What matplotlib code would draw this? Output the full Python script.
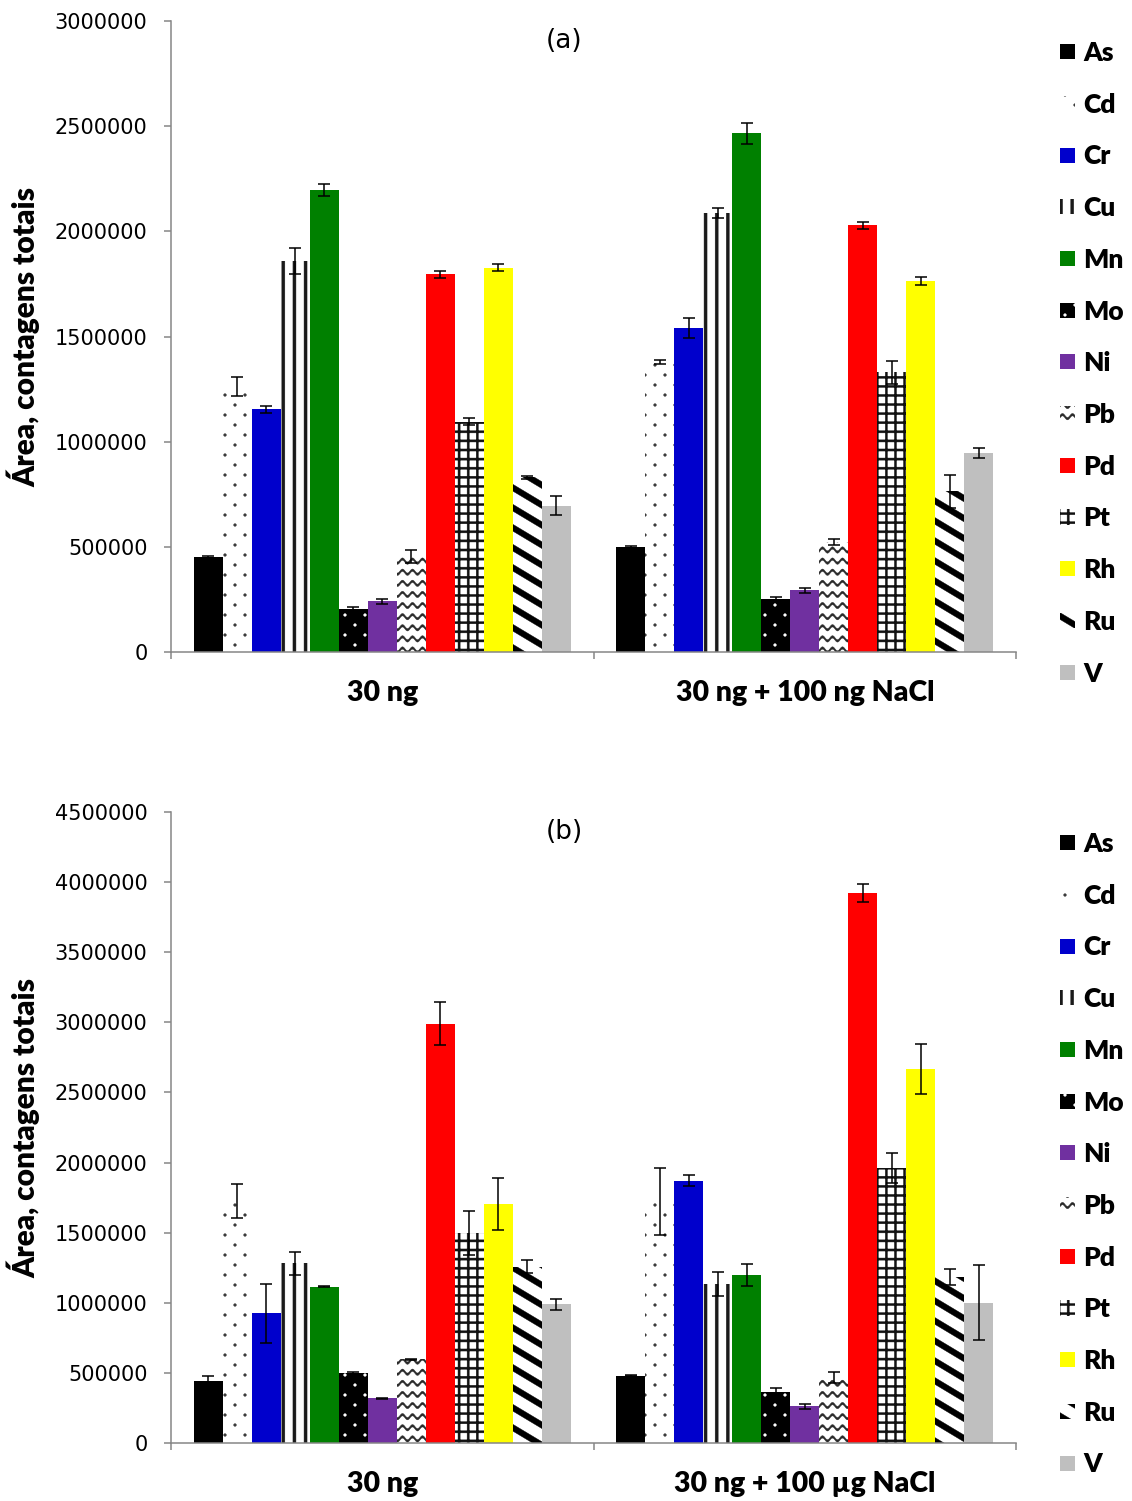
import warnings
import numpy as np
import matplotlib
matplotlib.use('Agg')
import matplotlib.pyplot as plt
import matplotlib.hatch as mhatch
from matplotlib.path import Path

warnings.filterwarnings('ignore', message='hatch must consist')

elements = ['As', 'Cd', 'Cr', 'Cu', 'Mn', 'Mo', 'Ni', 'Pb', 'Pd', 'Pt', 'Rh', 'Ru', 'V']
groups_a = ['30 ng', '30 ng + 100 ng NaCl']
groups_b = ['30 ng', '30 ng + 100 µg NaCl']

# (a) 30 ng and 30 ng + 100 ng NaCl
area_a_30 = [450000, 1262000, 1154000, 1859000, 2197000, 203000, 241000,
             453000, 1796000, 1095000, 1827000, 830000, 696000]
err_a_30 = [8000, 46000, 17000, 60000, 28000, 13000, 12000,
            32000, 17000, 17000, 17000, 6000, 47000]
area_a_nacl = [499000, 1379000, 1540000, 2087000, 2467000, 252000, 293000,
               524000, 2028000, 1329000, 1763000, 764000, 946000]
err_a_nacl = [5000, 10000, 47000, 25000, 50000, 11000, 13000,
              15000, 16000, 56000, 19000, 79000, 23000]

# (b) 30 ng and 30 ng + 100 ug NaCl
area_b_30 = [444000, 1726000, 925000, 1281000, 1115000, 497000, 319000,
             597000, 2991000, 1495000, 1704000, 1257000, 989000]
err_b_30 = [33000, 119000, 209000, 83000, 5000, 8000, 4000,
            4000, 153000, 156000, 185000, 48000, 38000]
area_b_nacl = [480000, 1720000, 1871000, 1137000, 1196000, 364000, 263000,
               467000, 3922000, 1961000, 2667000, 1183000, 999000]
err_b_nacl = [5000, 239000, 41000, 86000, 77000, 27000, 18000,
              36000, 66000, 106000, 175000, 56000, 267000]

face_colors = ['black', 'white', '#0000CC', 'white', '#008000', 'black', '#7030A0',
               'white', '#FF0000', 'white', '#FFFF00', 'white', '#BFBFBF']
hatch_colors = ['black', '#3a3a3a', '#0000CC', '#1a1a1a', '#008000', 'white', '#7030A0',
                '#2a2a2a', '#FF0000', '#111111', '#FFFF00', 'black', '#BFBFBF']
hatches = [None, ':', None, '!', None, ':', None, '~', None, '#', None, '&', None]


def _blob(cx, cy, r, n=10):
    t = np.linspace(0, 2 * np.pi, n, endpoint=False)
    return np.column_stack([cx + r * np.cos(t), cy + r * np.sin(t)])


def _rect(x0, y0, x1, y1):
    return np.array([[x0, y0], [x1, y0], [x1, y1], [x0, y1]])


class FilledTexture(mhatch.HatchPatternBase):
    """Office-style fill textures made of filled polygons in the unit hatch tile."""

    def __init__(self, hatch, density):
        polys = []
        if ':' in hatch:  # staggered dots
            for j in range(10):
                for i in range(5):
                    polys.append(_blob((i + 0.25 + 0.5 * (j % 2)) / 5, (j + 0.5) / 10, 0.014))
        if '!' in hatch:  # vertical bars
            for k in range(9):
                xc = (k + 0.5) / 9
                polys.append(_rect(xc - 0.015, -0.05, xc + 0.015, 1.05))
        if '#' in hatch:  # square grid
            for k in range(11):
                c = (k + 0.5) / 11
                polys.append(_rect(c - 0.0105, -0.05, c + 0.0105, 1.05))
                polys.append(_rect(-0.05, c - 0.0105, 1.05, c + 0.0105))
        if '~' in hatch:  # waves
            xs = np.linspace(-0.05, 1.05, 221)
            for k in range(9):
                yc = (k + 0.5) / 9 + 0.02 * np.sin(2 * np.pi * 10 * xs)
                upper = np.column_stack([xs, yc + 0.012])
                lower = np.column_stack([xs[::-1], yc[::-1] - 0.012])
                polys.append(np.vstack([upper, lower]))
        if '&' in hatch:  # wide downward diagonals
            h = 0.034
            for k in range(-1, 10):
                c = 0.2 * k
                polys.append(np.array([[-0.1, c + 0.06 + h], [1.1, c - 0.66 + h],
                                       [1.1, c - 0.66 - h], [-0.1, c + 0.06 - h]]))
        self.polys = polys
        self.num_vertices = sum(len(p) + 1 for p in polys)

    def set_vertices_and_codes(self, vertices, codes):
        i = 0
        for p in self.polys:
            n = len(p)
            vertices[i:i + n] = p
            vertices[i + n] = p[0]
            codes[i] = Path.MOVETO
            codes[i + 1:i + n] = Path.LINETO
            codes[i + n] = Path.CLOSEPOLY
            i += n + 1


mhatch._hatch_types.append(FilledTexture)

plt.rcParams['hatch.linewidth'] = 0.3
plt.rcParams['font.family'] = ['DejaVu Sans']
BOLD = ['Lato', 'DejaVu Sans']
AXIS_GRAY = '#868686'

W, H = 1132, 1501
fig = plt.figure(figsize=(W / 100, H / 100), dpi=100)

bar_w = 0.0686
x = np.arange(2)


def draw_panel(ax, v30, e30, vnacl, enacl, ymax, letter, group_names):
    handles = []
    for i, el in enumerate(elements):
        xs = x + (i - 6) * bar_w
        ys = [v30[i], vnacl[i]]
        bars = ax.bar(xs, ys, width=bar_w, color=face_colors[i], edgecolor=hatch_colors[i],
                      linewidth=0, hatch=hatches[i], label=el, zorder=2)
        ax.errorbar(xs, ys, yerr=[e30[i], enacl[i]], fmt='none', ecolor='black',
                    elinewidth=1.1, capsize=4.3, capthick=1.1, zorder=3)
        handles.append(bars)

    ax.set_xlim(-0.5, 1.5)
    ax.set_ylim(0, ymax)
    ticks = np.arange(0, ymax + 1, 500000)
    ax.set_yticks(ticks, [str(int(t)) for t in ticks])
    ax.tick_params(axis='y', length=5, width=1.1, color=AXIS_GRAY, pad=12, labelsize=15)
    ax.set_xticks(x, group_names, fontsize=20.5, fontweight='heavy', family=BOLD)
    ax.set_xticks([-0.5, 0.5, 1.5], minor=True)
    ax.tick_params(axis='x', which='major', length=0, pad=20)
    ax.tick_params(axis='x', which='minor', length=5, width=1.1, color=AXIS_GRAY)
    for side in ['top', 'right']:
        ax.spines[side].set_visible(False)
    for side in ['left', 'bottom']:
        ax.spines[side].set_color(AXIS_GRAY)
        ax.spines[side].set_linewidth(1.1)

    ax.set_ylabel('Área, contagens totais', fontsize=21.5, fontweight='heavy', family=BOLD)
    ax.yaxis.set_label_coords(-0.154, 0.5)
    ax.text(0.465, 0.969, letter, transform=ax.transAxes, ha='center', va='center', fontsize=19)

    top_px = H * (1 - ax.get_position().y1)
    ax.legend(handles=handles, loc='upper left',
              bbox_to_anchor=(1060 / W, 1 - (top_px + 20) / H), bbox_transform=fig.transFigure,
              frameon=False, borderpad=0, borderaxespad=0, handlelength=0.57, handleheight=0.5,
              handletextpad=0.3, labelspacing=1.05,
              prop={'family': BOLD, 'weight': 'heavy', 'size': 19})


ax_a = fig.add_axes([171 / W, 1 - 652 / H, 845 / W, 631 / H])
ax_b = fig.add_axes([171 / W, 1 - 1443 / H, 845 / W, 631 / H])

draw_panel(ax_a, area_a_30, err_a_30, area_a_nacl, err_a_nacl, 3000000, '(a)', groups_a)
draw_panel(ax_b, area_b_30, err_b_30, area_b_nacl, err_b_nacl, 4500000, '(b)', groups_b)

fig.savefig('out.png', dpi=100)
